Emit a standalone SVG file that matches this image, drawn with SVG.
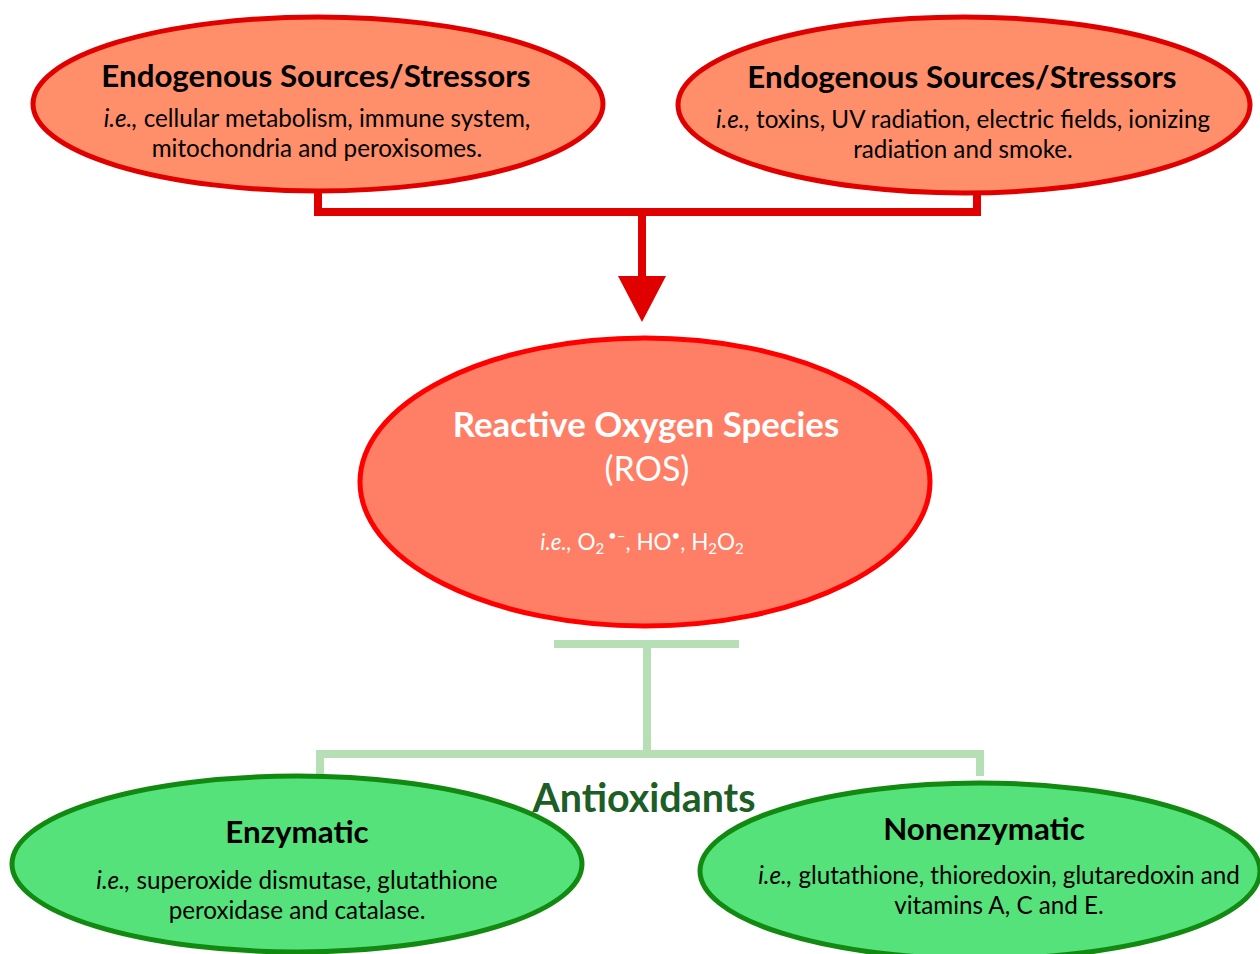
<svg xmlns="http://www.w3.org/2000/svg" width="1260" height="954" viewBox="0 0 1260 954">
<style>
.t{font-family:Lato,"Open Sans","Liberation Sans",sans-serif;text-anchor:middle}
.h{font-weight:bold;font-size:31.3px;fill:#000}
.b{font-size:24.2px;fill:#000}
.w{fill:#fff}
.src{fill:#ff8e6b;stroke:#e00000;stroke-width:5}
.ros{fill:#ff7e66;stroke:#ff0000;stroke-width:5}
.anti{fill:#55e27a;stroke:#128a12;stroke-width:5}
.rc{fill:none;stroke:#e00000;stroke-width:8}
.gc{fill:none;stroke:#b6dfb6;stroke-width:8}
</style>
<rect width="1260" height="954" fill="#fff"/>
<g id="connectors">
<path class="rc" d="M318 190 V212 H977 V190"/>
<path class="rc" d="M642 212 V278"/>
<polygon points="618,276 666,276 642,322" fill="#e00000"/>
<path class="gc" d="M554 644 H739"/>
<path class="gc" d="M647 644 V754"/>
<path class="gc" d="M320 776 V754 H980 V776"/>
</g>
<g id="endogenous-left">
<ellipse class="src" cx="318" cy="104" rx="285" ry="87"/>
<text class="t h" x="316" y="87">Endogenous Sources/Stressors</text>
<text class="t b" x="317" y="127"><tspan font-style="italic">i.e.,</tspan> cellular metabolism, immune system,</text>
<text class="t b" x="317" y="157">mitochondria and peroxisomes.</text>
</g>
<g id="endogenous-right">
<ellipse class="src" cx="964" cy="105" rx="286" ry="88"/>
<text class="t h" x="962" y="88">Endogenous Sources/Stressors</text>
<text class="t b" x="963" y="128"><tspan font-style="italic">i.e.,</tspan> toxins, UV radiation, electric fields, ionizing</text>
<text class="t b" x="963" y="158">radiation and smoke.</text>
</g>
<g id="ros">
<ellipse class="ros" cx="645" cy="482" rx="285" ry="144"/>
<text class="t w" x="646" y="437" font-size="34.8" font-weight="bold">Reactive Oxygen Species</text>
<text class="t w" x="647" y="481" font-size="34">(ROS)</text>
<text class="t w" x="642" y="550" font-size="22.5"><tspan font-style="italic">i.e.,</tspan> O<tspan font-size="15" dy="4">2</tspan><tspan font-size="15" dy="-13"> •–</tspan><tspan dy="9">, HO</tspan><tspan font-size="15" dy="-9">•</tspan><tspan dy="9">, H</tspan><tspan font-size="15" dy="4">2</tspan><tspan dy="-4">O</tspan><tspan font-size="15" dy="4">2</tspan></text>
</g>
<g id="antioxidants-label">
<text class="t" x="644" y="812" font-size="39.4" font-weight="bold" fill="#1d5e27">Antioxidants</text>
</g>
<g id="enzymatic">
<ellipse class="anti" cx="297" cy="864" rx="285" ry="88"/>
<text class="t h" x="297" y="843">Enzymatic</text>
<text class="t b" x="297" y="889"><tspan font-style="italic">i.e.,</tspan> superoxide dismutase, glutathione</text>
<text class="t b" x="297" y="919">peroxidase and catalase.</text>
</g>
<g id="nonenzymatic">
<ellipse class="anti" cx="980" cy="871" rx="280" ry="88"/>
<text class="t h" x="984" y="840">Nonenzymatic</text>
<text class="t b" x="999" y="884"><tspan font-style="italic">i.e.,</tspan> glutathione, thioredoxin, glutaredoxin and</text>
<text class="t b" x="999" y="914">vitamins A, C and E.</text>
</g>
</svg>
